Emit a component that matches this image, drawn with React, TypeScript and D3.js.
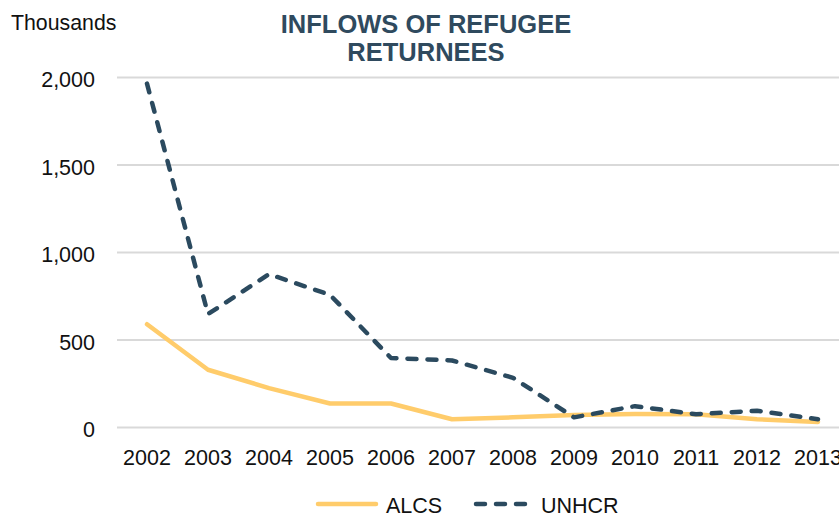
import React from "react";
import * as d3 from "d3";

// Refugee returnee inflows, thousands
const years: string[] = ["2002","2003","2004","2005","2006","2007","2008","2009","2010","2011","2012","2013"];
const alcs: number[] = [590, 330, 225, 137, 137, 47, 58, 72, 77, 76, 47, 32];
const unhcr: number[] = [1965, 648, 876, 758, 397, 383, 284, 58, 122, 76, 96, 47];
const yTicks: number[] = [0, 500, 1000, 1500, 2000];

const W = 839;
const H = 516;
const FONT = "'Liberation Sans', Arial, sans-serif";
const ALCS_COLOR = "#FFCC6B";
const UNHCR_COLOR = "#2B4A5F";
const TEXT = "#111";

export default function App() {
  const x = d3.scalePoint<string>().domain(years).range([147, 818]);
  const y = d3.scaleLinear().domain([0, 2000]).range([427.5, 77.5]);
  const line = d3
    .line<number>()
    .x((_, i) => x(years[i]) as number)
    .y((d) => y(d));

  return (
    <svg width={W} height={H} style={{ position: "absolute", left: 0, top: 0, background: "#fff" }}>
      <text x={11} y={30} fontFamily={FONT} fontSize={21.3} fill={TEXT}>Thousands</text>
      <text x={426} y={33} textAnchor="middle" fontFamily={FONT} fontWeight={700} fontSize={25.5} fill="#2F4A5E">
        INFLOWS OF REFUGEE
      </text>
      <text x={426} y={61} textAnchor="middle" fontFamily={FONT} fontWeight={700} fontSize={25.5} fill="#2F4A5E">
        RETURNEES
      </text>
      {yTicks.map((t) => (
        <g key={t}>
          <line x1={117} x2={W} y1={y(t)} y2={y(t)} stroke="#D9D9D9" strokeWidth={2} />
          <text x={95} y={y(t) + 9.5} textAnchor="end" fontFamily={FONT} fontSize={21.5} fill={TEXT}>
            {d3.format(",")(t)}
          </text>
        </g>
      ))}
      {years.map((yr) => (
        <text key={yr} x={x(yr)} y={465} textAnchor="middle" fontFamily={FONT} fontSize={21.5} fill={TEXT}>
          {yr}
        </text>
      ))}
      <path d={line(alcs) || ""} fill="none" stroke={ALCS_COLOR} strokeWidth={4.5} strokeLinejoin="round" strokeLinecap="round" />
      <path d={line(unhcr) || ""} fill="none" stroke={UNHCR_COLOR} strokeWidth={4.5} strokeDasharray="9 11" strokeLinejoin="round" strokeLinecap="round" />
      <line x1={318} x2={376} y1={504} y2={504} stroke={ALCS_COLOR} strokeWidth={4.5} strokeLinecap="round" />
      <text x={386} y={513} fontFamily={FONT} fontSize={21.5} fill={TEXT}>ALCS</text>
      <line x1={476} x2={527} y1={504} y2={504} stroke={UNHCR_COLOR} strokeWidth={4.5} strokeDasharray="9 11" strokeLinecap="round" />
      <text x={541} y={513} fontFamily={FONT} fontSize={21.5} fill={TEXT}>UNHCR</text>
    </svg>
  );
}
